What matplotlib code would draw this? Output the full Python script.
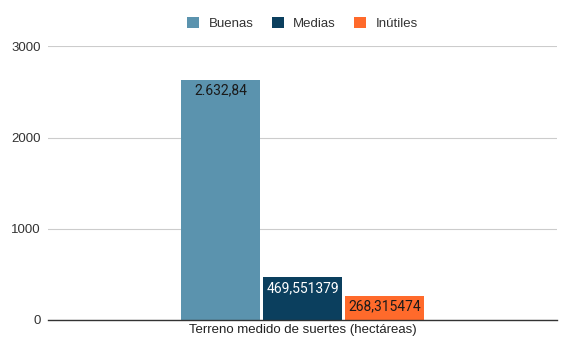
import numpy as np
import matplotlib.pyplot as plt

plt.rcParams['font.family'] = ['Liberation Sans', 'DejaVu Sans']

category = 'Terreno medido de suertes (hectáreas)'
series = ['Buenas', 'Medias', 'Inútiles']
values = [2632.84, 469.551379, 268.315474]
value_labels = ['2.632,84', '469,551379', '268,315474']
colors = ['#5b93ae', '#0b3f5e', '#ff6a2b']
text_colors = ['#1a1a1a', 'white', '#1a1a1a']

fig = plt.figure(figsize=(5.75, 3.55), dpi=100)
ax = fig.add_axes([0.0835, 0.0986, 0.885, 0.771])

step = 0.161
width = 0.155
offsets = (np.arange(len(series)) - 1) * step
for off, v, lab, c, tc, name in zip(offsets, values, value_labels, colors, text_colors, series):
    ax.bar(off, v, width=width, color=c, label=name, zorder=3)
    ax.text(off, v - 40, lab, ha='center', va='top', fontsize=10, color=tc,
            family=['Roboto', 'DejaVu Sans'], zorder=4)

ax.set_xlim(-0.5, 0.5)
ax.set_ylim(0, 3000)
ax.set_yticks([0, 1000, 2000, 3000])
ax.set_xticks([0])
ax.set_xticklabels([category])
ax.tick_params(axis='x', length=0, labelsize=9.5, colors='#222222', pad=3)
ax.tick_params(axis='y', length=0, labelsize=9.5, colors='#333333', pad=5)
ax.grid(axis='y', color='#cccccc', linewidth=0.8, zorder=0)
for s in ['top', 'right', 'left']:
    ax.spines[s].set_visible(False)
ax.spines['bottom'].set_color('#333333')
ax.spines['bottom'].set_linewidth(1.0)
ax.spines['bottom'].set_zorder(5)

ax.legend(loc='lower center', bbox_to_anchor=(0.5, 1.015), ncol=3, frameon=False,
          fontsize=9.5, handlelength=0.9, handleheight=0.9, handletextpad=0.7,
          columnspacing=1.4, labelcolor='#333333')

fig.savefig('out.png', dpi=100)
